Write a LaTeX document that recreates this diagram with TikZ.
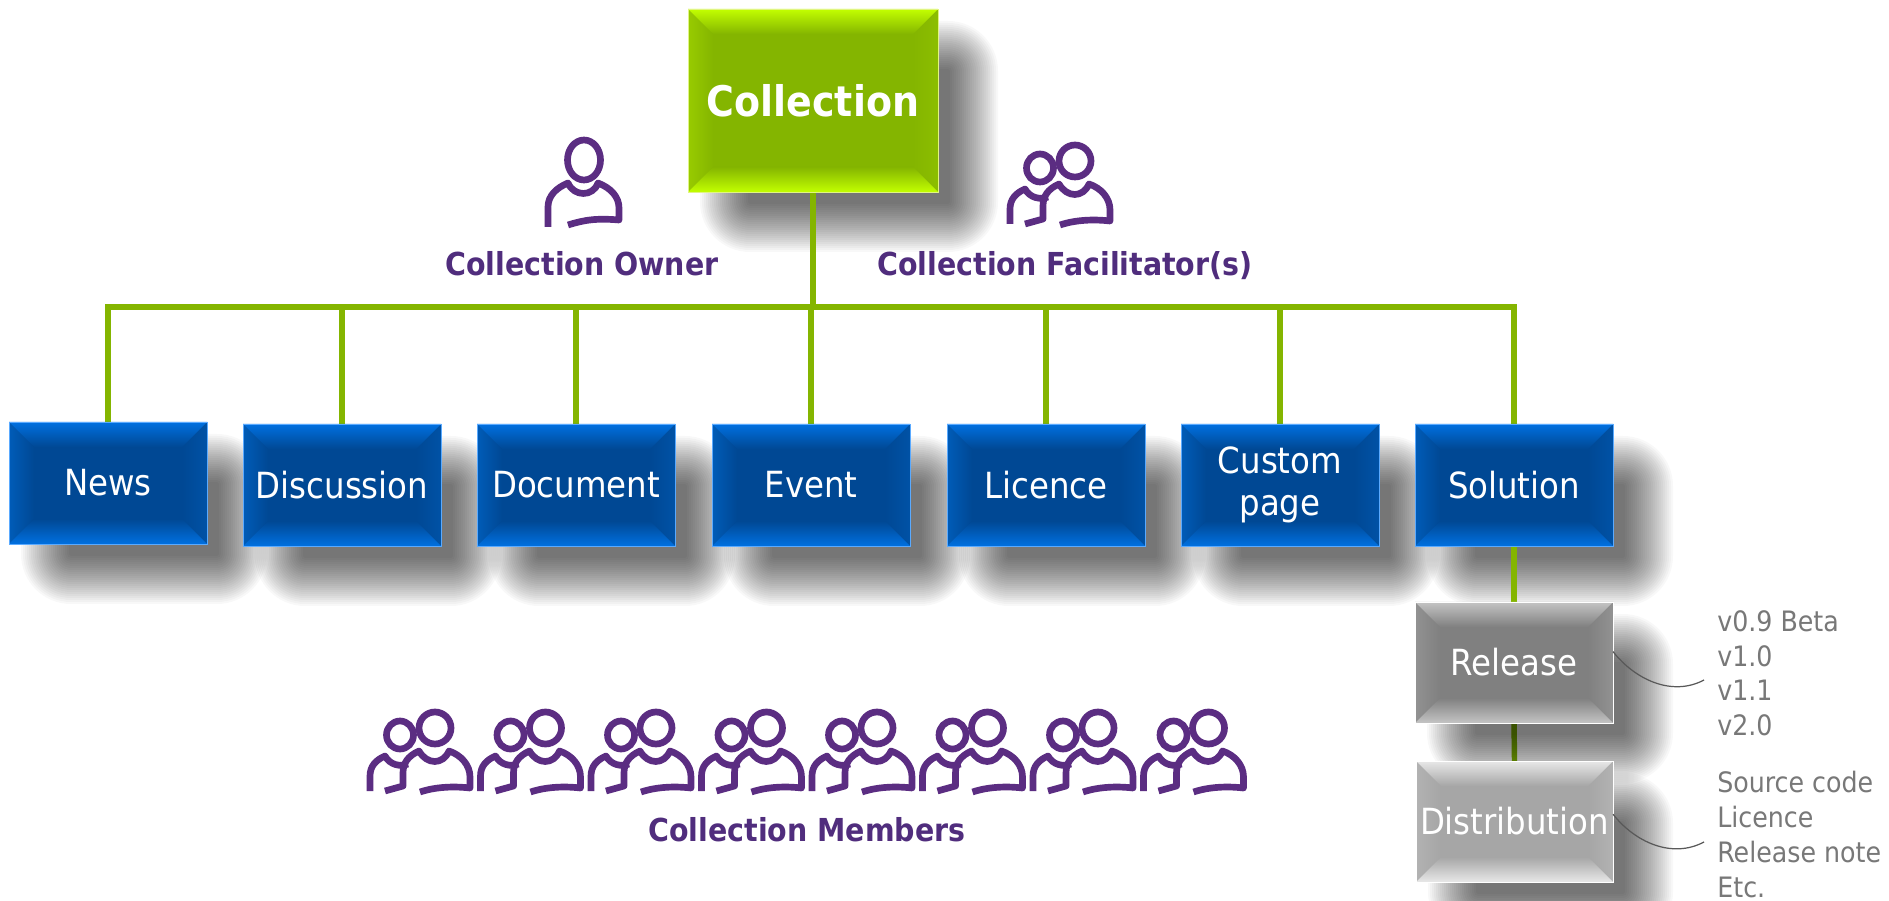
\documentclass[tikz,border=0pt]{standalone}
\usepackage{fontspec}
\setmainfont{DejaVu Sans Condensed}
\usetikzlibrary{calc}
\pgfdeclarelayer{shadowa}
\pgfdeclarelayer{linesl}
\pgfdeclarelayer{shadowb}
\pgfsetlayers{shadowa,linesl,shadowb,main}
\definecolor{grn}{RGB}{132,181,0}
\definecolor{grntop}{RGB}{195,255,0}
\definecolor{grnl}{RGB}{152,203,0}
\definecolor{grnr}{RGB}{140,190,0}
\definecolor{grnb}{RGB}{225,245,130}
\definecolor{blu}{RGB}{0,72,148}
\definecolor{blutop}{RGB}{0,112,224}
\definecolor{blul}{RGB}{0,92,184}
\definecolor{blur}{RGB}{0,82,166}
\definecolor{blub}{RGB}{90,170,255}
\definecolor{rel}{RGB}{128,128,128}
\definecolor{reltop}{RGB}{196,196,196}
\definecolor{rell}{RGB}{146,146,146}
\definecolor{dis}{RGB}{166,166,166}
\definecolor{distop}{RGB}{232,232,232}
\definecolor{disl}{RGB}{178,178,178}
\definecolor{purp}{RGB}{91,45,130}
\definecolor{purpt}{RGB}{80,45,125}
\definecolor{notegray}{RGB}{120,120,120}
\newcommand{\bd}{0.5cm}
\tikzset{
  bevel/.style n args={5}{rectangle, inner sep=0pt, outer sep=0pt, align=center, text=white,
    draw=#5, line width=0.35pt, fill=#1,
    path picture={
      \coordinate (nw) at (path picture bounding box.north west);
      \coordinate (ne) at (path picture bounding box.north east);
      \coordinate (sw) at (path picture bounding box.south west);
      \coordinate (se) at (path picture bounding box.south east);
      \coordinate (inw) at ($(nw)+(\bd,-\bd)$);
      \coordinate (ine) at ($(ne)+(-\bd,-\bd)$);
      \coordinate (isw) at ($(sw)+(\bd,\bd)$);
      \coordinate (ise) at ($(se)+(-\bd,\bd)$);
      \shade[left color=#3,right color=#1] (nw) -- (inw) -- (isw) -- (sw) -- cycle;
      \shade[left color=#1,right color=#4] (ne) -- (ine) -- (ise) -- (se) -- cycle;
      \shade[top color=#2,bottom color=#1] (nw) -- (ne) -- (ine) -- (inw) -- cycle;
      \shade[top color=#1,bottom color=#2] (sw) -- (se) -- (ise) -- (isw) -- cycle;
    }},
  bluebox/.style={bevel={blu}{blutop}{blul}{blur}{blub}, font=\fontsize{20.5}{24}\selectfont},
  greenbox/.style={bevel={grn}{grntop}{grnl}{grnr}{grnb}, font=\fontsize{24}{30}\selectfont\bfseries},
  relbox/.style={bevel={rel}{reltop}{rell}{rell}{white}, font=\fontsize{20.5}{24}\selectfont},
  disbox/.style={bevel={dis}{distop}{disl}{disl}{white}, font=\fontsize{20.5}{24}\selectfont},
  conn/.style={draw=grn, line width=3.1pt},
  callout/.style={draw=black!65, line width=0.7pt},
  rolelabel/.style={text=purpt, font=\fontsize{18}{21}\selectfont\bfseries, inner sep=0pt},
  notetext/.style={text=notegray, font=\fontsize{16}{19.8}\selectfont, align=left, inner sep=0pt, anchor=north west},
  iconline/.style={draw=purp, line width=3.8pt, line join=round},
  solo/.pic={
    \draw[iconline] (0,0) ellipse [x radius=16.5, y radius=20];
    \draw[iconline] (-36,67) -- (-36,47) .. controls (-36,36) and (-28,28) .. (-16,23)
      .. controls (-10,37) and (9,37) .. (14,23) .. controls (27,28) and (35,37) .. (35,48)
      -- (35,60) .. controls (12,58) and (0,60) .. (-16,65);
  },
  duo/.pic={
    \draw[iconline] (0,0) ellipse [x radius=16, y radius=16];
    \draw[iconline] (-35,7) ellipse [x radius=13.5, y radius=14];
    \draw[iconline] (-15,64) .. controls (0,59) and (18,58) .. (35,60) -- (35,49)
      .. controls (35,37) and (26,27) .. (14,23) .. controls (8,37) and (-8,37) .. (-16,23)
      .. controls (-27,28) and (-32,35) .. (-32,45) -- (-32,58) -- (-50,63);
    \draw[iconline] (-65,63) -- (-65,48) .. controls (-65,38) and (-59,32) .. (-50,28)
      .. controls (-45,37) and (-35,39) .. (-27,36);
  }
}
% layer, name, x1, y1, x2, y2, style, text
\newcommand{\bevelnode}[8]{%
  \begin{pgfonlayer}{#1}
    \foreach \i in {-24,-22,...,24} {
      \pgfmathsetlengthmacro{\rr}{(\i+26)*0.02cm}
      \fill[black,opacity=0.0273,rounded corners=\rr]
        ({#3+36-\i},{#4+36-\i}) rectangle ({#5+36+\i},{#6+36+\i});
    }
  \end{pgfonlayer}
  \pgfmathsetlengthmacro{\bw}{(#5-#3)*0.02cm}
  \pgfmathsetlengthmacro{\bh}{(#6-#4)*0.02cm}
  \node[#7, minimum width=\bw, minimum height=\bh] (#2) at ({(#3+#5)/2},{(#4+#6)/2}) {#8};
}
\begin{document}
\begin{tikzpicture}[x=0.02cm,y=-0.02cm]
\useasboundingbox (0,0) rectangle (1889,901);
\begin{pgfonlayer}{shadowa}
\fill[white] (0,0) rectangle (1889,901);
\end{pgfonlayer}
\bevelnode{shadowa}{coll}{688}{9}{938}{192}{greenbox}{Collection}
\bevelnode{shadowa}{news}{9}{422}{207}{544}{bluebox}{News}
\bevelnode{shadowa}{disc}{243}{424}{441}{546}{bluebox}{Discussion}
\bevelnode{shadowa}{docu}{477}{424}{675}{546}{bluebox}{Document}
\bevelnode{shadowa}{evnt}{712}{424}{910}{546}{bluebox}{Event}
\bevelnode{shadowa}{lice}{947}{424}{1145}{546}{bluebox}{Licence}
\bevelnode{shadowa}{cust}{1181}{424}{1379}{546}{bluebox}{Custom\\page}
\bevelnode{shadowa}{solu}{1415}{424}{1613}{546}{bluebox}{Solution}
\bevelnode{shadowb}{rele}{1415}{602}{1613}{723}{relbox}{Release}
\bevelnode{shadowb}{dist}{1416}{761}{1613}{882}{disbox}{Distribution}
\begin{pgfonlayer}{linesl}
  \coordinate (bus) at (coll.south |- 0,307);
  \draw[conn] (coll.south) -- (bus);
  \draw[conn] (bus) -| (news.north);
  \draw[conn] (bus) -| (disc.north);
  \draw[conn] (bus) -| (docu.north);
  \draw[conn] (bus) -| (evnt.north);
  \draw[conn] (bus) -| (lice.north);
  \draw[conn] (bus) -| (cust.north);
  \draw[conn] (bus) -| (solu.north);
  \draw[conn] (solu.south) -- (rele.north);
  \draw[conn] (rele.south) -- (dist.north);
\end{pgfonlayer}
\pic at (584,160) {solo};
\pic at (1075,161) {duo};
\foreach \k in {0,...,7} { \pic at ({435+110.5*\k},728) {duo}; }
\node[rolelabel] (lowner) at (582,264) {Collection Owner};
\node[rolelabel] (lfacil) at (1065,266) {Collection Facilitator(s)};
\node[rolelabel] (lmemb) at (807,830) {Collection Members};
\node[notetext] (nrel) at (1717,610) {v0.9 Beta\\v1.0\\v1.1\\v2.0};
\node[notetext] (ndis) at (1717,771) {Source code\\Licence\\Release note\\Etc.};
\coordinate (crel) at (1704,680);
\coordinate (cdis) at (1704,842);
\draw[callout] ($(rele.north east)!0.41!(rele.south east)$) .. controls +(22,28) and (1672,697) .. (crel);
\draw[callout] ($(dist.north east)!0.44!(dist.south east)$) .. controls +(22,28) and (1672,859) .. (cdis);
\end{tikzpicture}
\end{document}
